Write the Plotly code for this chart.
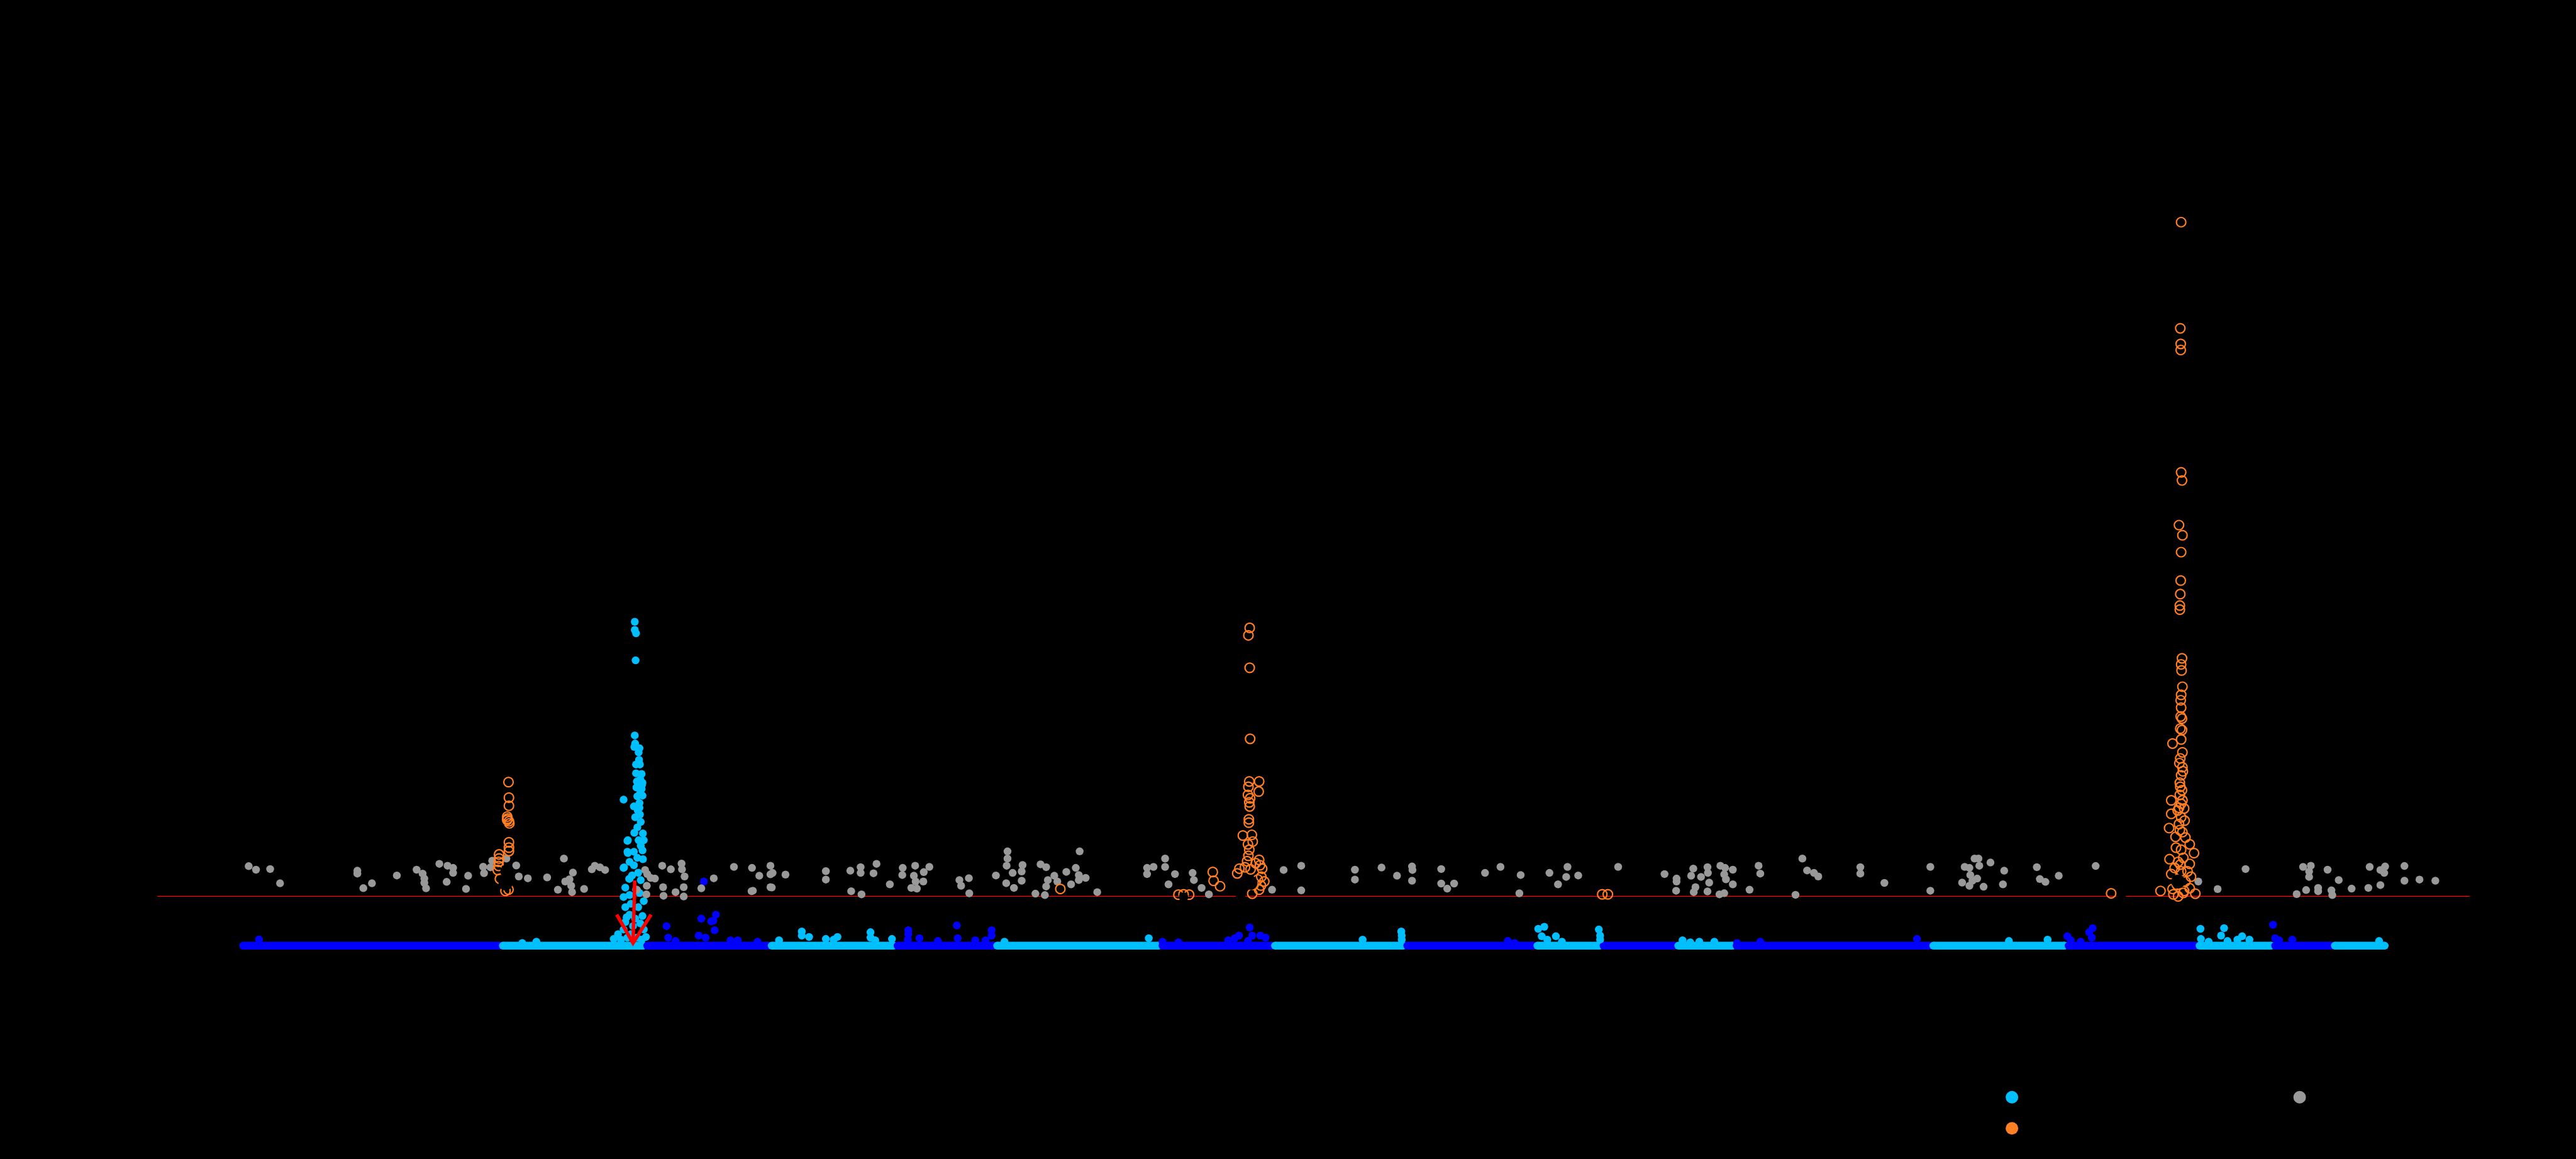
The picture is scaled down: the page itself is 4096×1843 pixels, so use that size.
import plotly.graph_objects as go

# ---------------- data (cumulative genome position, -log10 P) ----------------
chrom_names = [str(i) for i in range(1, 19)]
chrom_first_snp = [567, 1172, 1508, 1798, 2091, 2323, 2708, 2970, 3278, 3581, 3735, 3909, 4045, 4503, 4818, 5123, 5299, 5438]
chrom_last_snp = [1163, 1499, 1789, 2082, 2314, 2699, 2961, 3269, 3572, 3726, 3900, 4036, 4494, 4809, 5114, 5290, 5429, 5554]
chrom_colors = ["#0000FF", "#00BFFF"] * 9

threshold = 7.3

# elevated SNPs on odd (blue) chromosomes
blue_pos = [604, 1553, 1557, 1574, 1628, 1634, 1640, 1644, 1657, 1662, 1665, 1668, 1702, 1719, 1765,
            2116, 2116, 2115, 2142, 2185, 2229, 2231, 2272, 2310, 2310, 2296, 2708, 2745, 2861, 2876,
            2886, 2911, 2917, 2936, 2948, 2907, 3512, 3528, 4046, 4100, 4465, 4815, 4874, 4866, 4872,
            4823, 4846, 5294, 5299, 5339, 5308]
blue_logp = [0.93, 2.9, 1.2, 0.7, 1.5, 4.0, 9.5, 1.2, 3.6, 3.7, 2.3, 4.6, 0.8, 0.8, 0.6,
             2.3, 1.7, 0.9, 1.1, 0.7, 3.0, 1.1, 0.8, 2.3, 1.5, 0.8, 0.6, 0.5, 0.8, 1.1,
             1.5, 2.7, 1.5, 1.5, 1.2, 0.7, 0.7, 0.4, 0.4, 0.6, 1.0, 1.4, 2.6, 2.0, 1.2,
             0.8, 0.6, 3.1, 1.1, 0.9, 0.8]

# elevated SNPs on even (light blue) chromosomes, incl. the chromosome-2 peak
cyan_pos = [1217, 1250, 1815, 1868, 1868, 1885, 1924, 1951, 1942, 2028, 2028, 2039, 2078, 2340, 2676,
            3174, 3264, 3265, 3265, 3583, 3597, 3591, 3624, 3604, 3638, 3724, 3727, 3727, 3919, 3937,
            3958, 3993, 4679, 4769, 5125, 5180, 5173, 5126, 5222, 5239, 5188, 5211, 5144, 5541,
            1479, 1479, 1482, 1481, 1479, 1480, 1478, 1490, 1488, 1482, 1491, 1482, 1495, 1492, 1497,
            1483, 1495, 1492, 1485, 1497, 1453, 1490, 1477, 1490, 1491, 1478, 1498, 1463, 1488, 1500,
            1493, 1463, 1477, 1497, 1485, 1498, 1467, 1477, 1453, 1487, 1467, 1493, 1457, 1482, 1467,
            1453, 1500, 1457, 1487, 1467, 1497, 1457, 1492, 1500, 1440, 1453, 1430, 1470,
            1447, 1462, 1475, 1484, 1495, 1505, 1470, 1480, 1460, 1490, 1473, 1485, 1493, 1480, 1486,
            1489, 1484, 1496, 1462, 1462, 1454, 1466]
cyan_logp = [0.4, 0.6, 0.8, 2.1, 1.5, 1.3, 1.0, 1.3, 0.9, 2.0, 1.2, 0.8, 1.0, 0.6, 1.1,
             0.9, 2.1, 1.5, 0.9, 2.5, 2.8, 1.4, 1.4, 0.9, 0.6, 2.4, 1.5, 0.9, 0.8, 0.5,
             0.6, 0.6, 0.7, 0.9, 2.5, 2.6, 1.5, 1.0, 1.4, 0.9, 0.7, 0.9, 0.6, 0.7,
             47.9, 46.7, 46.2, 42.2, 31.1, 29.9, 29.4, 29.2, 28.6, 26.8, 26.8, 25.5, 25.4, 24.6, 24.1,
             23.4, 23.2, 22.6, 22.1, 22.2, 21.6, 21.1, 20.6, 20.4, 19.4, 16.7, 16.6, 15.6, 15.6, 15.6,
             14.8, 13.7, 13.9, 14.1, 13.0, 12.8, 12.4, 11.9, 11.5, 10.8, 9.9, 9.7, 8.6, 8.3, 7.5,
             7.2, 6.6, 5.7, 5.7, 4.6, 4.4, 3.5, 3.3, 2.4, 1.7, 2.4, 1.0, 1.7,
             0.9, 1.2, 2.9, 1.2, 0.9, 1.3, 6.2, 4.0, 4.2, 7.8, 10.4, 17.5, 18.3, 19.0, 20.0,
             27.5, 24.3, 23.8, 15.5, 13.9, 11.6, 9.9]

# previously reported associations
gray_pos = [580, 597, 630, 653, 833, 833, 847, 867, 925, 971, 985, 989, 989, 993, 1024, 1043, 1056, 1056,
            1041, 1091, 1086, 1126, 1128, 1147, 1203, 1209, 1230, 1275, 1300, 1314, 1317, 1327, 1331, 1335,
            1333, 1361, 1379, 1386, 1410, 1484, 1503, 1506, 1507, 1516, 1526, 1543, 1545, 1546, 1563, 1574,
            1588, 1589, 1593, 1595, 1593, 1634, 1663, 1710, 1752, 1751, 1769, 1795, 1795, 1795,
            1143, 1180, 1398, 1508,
            1754, 1800, 1798, 1830, 1924, 1924, 1981, 2005, 2005, 2035, 2042, 1983, 2007, 2073, 2103, 2102,
            2132, 2129, 2152, 2165, 2133, 2151, 2123, 2136, 2235, 2239, 2257, 2258, 2320, 2347, 2347, 2345,
            2359, 2382, 2380, 2380, 2344, 2362, 2424, 2437, 2456, 2441, 2437, 2412, 2434, 2463, 2484, 2495,
            2506, 2515, 2513, 2513, 2529, 2556, 2672, 2687, 2672, 2714, 2714, 2737, 2722, 2778, 2781, 2799,
            2816, 2963, 2990, 3031, 3031,
            3156, 3156, 3218, 3254, 3289, 3290, 3289, 3357, 3357, 3371, 3387, 3459, 3495, 3542, 3539, 3609,
            3651, 3648, 3676, 3629, 3769, 3877, 3905, 3905, 3904, 3944, 3939, 3949, 3945, 3962, 3977, 3978,
            3981, 3977, 4007, 4018, 4016, 4020, 4036, 4036, 4005, 4016, 4075, 4096, 4100, 4198, 4209, 4225,
            4235, 4182,
            4333, 4333, 4389, 4496, 4496, 4576, 4587, 4599, 4608, 4636, 4610, 4589, 4605, 4594, 4570, 4587,
            4620, 4668, 4665, 4744, 4751, 4764, 4795, 4881, 5120, 5165, 5230, 5364, 5382, 5378, 5378, 5421,
            5447, 5371, 5349, 5399, 5399, 5430, 5432, 5477, 5516, 5519, 5544, 5555, 5553, 5544, 5600, 5600,
            5635, 5672]
gray_logp = [11.77, 11.24, 11.34, 9.23, 11.09, 10.67, 8.51, 9.23, 10.39, 11.24, 10.67, 9.93, 9.29, 8.49, 12.11, 11.83, 11.51, 10.77,
             9.44, 10.35, 8.40, 11.68, 10.73, 12.57, 11.87, 10.24, 9.97, 10.10, 8.28, 12.89, 9.50, 9.82, 8.87, 10.81,
             7.92, 8.40, 11.30, 11.83, 11.20, 8.28, 11.20, 7.60, 8.87, 10.03, 9.93, 11.83, 8.66, 7.39, 11.30, 7.92,
             12.15, 11.30, 8.66, 10.24, 7.28, 8.49, 9.97, 11.66, 11.51, 8.06, 10.35, 11.83, 10.56, 8.66,
             11.6, 12.89, 11.6, 10.6,
             8.13, 10.77, 8.61, 10.52, 11.03, 9.78, 11.09, 11.62, 10.77, 10.71, 12.11, 8.06, 7.60, 9.08, 11.51, 10.46,
             11.83, 10.35, 10.88, 11.66, 9.50, 9.50, 8.55, 8.44, 9.71, 8.87, 9.99, 7.75, 10.39, 13.95, 12.89, 11.83,
             10.77, 11.94, 10.98, 9.61, 9.25, 8.55, 12.04, 11.62, 10.35, 9.71, 8.76, 7.70, 7.49, 9.50, 10.92, 9.08,
             11.51, 13.95, 10.46, 9.71, 10.03, 7.92, 11.51, 11.66, 10.60, 12.89, 11.66, 10.60, 9.08, 10.77, 9.71, 8.55,
             7.60, 8.28, 11.20, 11.83, 8.19,
             11.24, 9.78, 11.56, 10.35, 11.72, 11.20, 9.61, 11.34, 9.19, 8.44, 9.19, 10.77, 11.66, 10.46, 7.75, 10.77,
             11.66, 10.18, 10.39, 9.08, 11.66, 10.60, 9.93, 9.50, 8.13, 11.41, 10.35, 8.66, 7.92, 10.18, 11.62, 10.77,
             9.33, 8.02, 11.83, 11.51, 10.56, 9.82, 11.24, 9.08, 7.60, 7.77, 8.28, 11.83, 10.67, 12.89, 11.13, 10.77,
             10.24, 7.53,
             11.62, 10.67, 9.29, 11.66, 8.13, 11.66, 11.51, 12.89, 12.89, 12.30, 11.83, 10.46, 9.93, 9.61, 9.33, 8.87,
             8.72, 11.09, 9.08, 11.62, 9.86, 9.44, 10.35, 11.79, 9.50, 8.38, 11.34, 11.66, 11.83, 10.98, 10.18, 11.24,
             9.71, 8.23, 7.64, 8.55, 8.06, 8.19, 7.49, 8.44, 8.55, 11.66, 11.20, 11.72, 10.77, 8.97, 11.79, 9.61,
             9.78, 9.61]

# replication / second trait (open circles)
orange_pos = [1185, 1186, 1186, 1182, 1183, 1186, 1187, 1182, 1186, 1186, 1186, 1163, 1163, 1162, 1162, 1160, 1165, 1185, 1178,
              2911, 2908, 2911, 2912, 2910, 2933, 2908, 2932, 2907, 2912, 2910, 2911, 2909, 2909, 2895, 2916, 2918,
              2907, 2910, 2908, 2933, 2887, 2900, 2882, 2913, 2940, 2938, 2937, 2933, 2917, 2825, 2827, 2842,
              2925, 2930, 2920, 2945, 2905, 2935,
              5080, 5078, 5079, 5079, 5080, 5082, 5075, 5083, 5080, 5079, 5078, 5077, 5077, 5082, 5080, 5081,
              5083, 5080, 5079, 5080, 5079, 5082, 5078, 5082, 5060, 5083, 5078, 5083, 5080, 5077, 5082, 5077,
              5083, 5057, 5075, 5087, 5057, 5080, 5052, 5077, 5083, 5067, 5100, 5110, 5080, 5053, 5073, 5100,
              5057, 5080, 5103, 5032, 5060, 5087, 5113, 5073,
              5070, 5090, 5065, 5095, 5085, 5068, 5090, 5075, 5088, 5072, 5080, 5078, 5084, 5076, 5080, 5085,
              5062, 5100, 5078,
              2470, 2745, 2757, 2770, 3732, 3745, 4917]
orange_logp = [24.2, 21.9, 20.7, 19.1, 18.8, 18.4, 18.1, 18.6, 15.3, 14.5, 14.0, 13.5, 12.9, 12.4, 11.8, 11.2, 9.9, 8.3, 8.1,
               47.0, 45.9, 41.1, 30.6, 24.3, 24.3, 23.5, 22.8, 22.3, 21.8, 21.2, 20.6, 18.7, 18.2, 16.3, 16.4, 15.4,
               15.0, 14.2, 13.3, 12.7, 11.4, 11.6, 10.7, 11.3, 11.4, 10.2, 8.9, 8.3, 7.7, 10.9, 9.6, 8.8,
               12.2, 9.8, 9.0, 9.5, 12.5, 11.9,
               107.0, 91.3, 89.0, 88.1, 70.0, 68.8, 62.2, 60.7, 58.2, 54.0, 52.0, 50.3, 49.7, 42.5, 41.6, 40.7,
               38.3, 37.1, 36.3, 35.2, 33.9, 33.6, 32.1, 31.9, 29.9, 28.6, 27.7, 26.4, 25.2, 24.1, 23.0, 22.3,
               21.5, 21.5, 20.4, 20.3, 19.5, 19.0, 17.4, 17.1, 16.8, 16.1, 15.0, 13.7, 14.2, 12.8, 12.4, 12.1,
               10.6, 11.0, 10.2, 8.1, 8.4, 8.1, 7.7, 7.3,
               9.0, 9.5, 11.5, 11.0, 13.0, 14.5, 16.0, 18.0, 18.5, 20.0, 21.0, 23.5, 25.8, 27.0, 30.5, 7.8,
               7.6, 8.5, 12.0,
               8.4, 7.55, 7.6, 7.55, 7.6, 7.6, 7.75]

# lead variants (drawn in black)
lead_pos = [1182, 1178, 2913, 5073]
lead_logp = [11.0, 9.2, 9.3, 9.5]
minor_lead_pos = [2890, 4940, 2757]
minor_lead_logp = [7.3, 7.3, 7.2]

# arrow pointing at the chromosome-2 signal
arrow_tail = (1479, 9.65)
arrow_tip = (1475, 0.4)
arrow_wing_left = (1437, 4.6)
arrow_wing_right = (1517, 4.6)

legend_labels = ["GWAS (this study)", "Published GWAS", "PigQTLdb"]
legend_colors = ["#00BFFF", "#FF7F24", "#999999"]
legend_x = [4686, 4686, 5356]
legend_y = [-22.4, -27.0, -22.4]

X_RANGE = [367, 5752]
Y_RANGE = [-4.29, 111.3]

# ---------------- figure ----------------
fig = go.Figure()

DOT = 12.5
for i in range(len(chrom_names)):
    fig.add_trace(go.Scatter(
        x=[chrom_first_snp[i], chrom_last_snp[i]], y=[0, 0], mode="lines+markers",
        line=dict(color=chrom_colors[i], width=DOT),
        marker=dict(color=chrom_colors[i], size=DOT, line=dict(width=0)),
        hoverinfo="skip", showlegend=False))

fig.add_trace(go.Scatter(x=blue_pos, y=blue_logp, mode="markers",
                         marker=dict(color="#0000FF", size=DOT, line=dict(width=0)), showlegend=False))
fig.add_trace(go.Scatter(x=cyan_pos, y=cyan_logp, mode="markers",
                         marker=dict(color="#00BFFF", size=DOT, line=dict(width=0)), showlegend=False))
fig.add_trace(go.Scatter(x=gray_pos, y=gray_logp, mode="markers",
                         marker=dict(color="#999999", size=DOT, line=dict(width=0)), showlegend=False))
fig.add_trace(go.Scatter(x=orange_pos, y=orange_logp, mode="markers",
                         marker=dict(symbol="circle-open", color="#FF7F24", size=15,
                                     line=dict(width=2.2, color="#FF7F24")), showlegend=False))
fig.add_trace(go.Scatter(x=lead_pos, y=lead_logp, mode="markers",
                         marker=dict(color="#000000", size=22, line=dict(width=0)), showlegend=False))
fig.add_trace(go.Scatter(x=minor_lead_pos, y=minor_lead_logp, mode="markers",
                         marker=dict(color="#000000", size=15, line=dict(width=0)), showlegend=False))

fig.add_trace(go.Scatter(
    x=[arrow_tail[0], arrow_tip[0], None, arrow_wing_left[0], arrow_tip[0], arrow_wing_right[0]],
    y=[arrow_tail[1], arrow_tip[1], None, arrow_wing_left[1], arrow_tip[1], arrow_wing_right[1]],
    mode="lines", line=dict(color="#FF0000", width=5.5), hoverinfo="skip", showlegend=False))

fig.add_shape(type="line", xref="paper", x0=0, x1=1, yref="y", y0=threshold, y1=threshold,
              line=dict(color="#FF0000", width=1.4), layer="below")

# legend drawn below the plot area (outside the axes), positioned in axis units
for lx, ly, lc, lt in zip(legend_x, legend_y, legend_colors, legend_labels):
    px = (lx - X_RANGE[0]) / (X_RANGE[1] - X_RANGE[0])
    py = (ly - Y_RANGE[0]) / (Y_RANGE[1] - Y_RANGE[0])
    fig.add_shape(type="circle", xref="paper", yref="paper",
                  xsizemode="pixel", ysizemode="pixel", xanchor=px, yanchor=py,
                  x0=-10, x1=10, y0=-10, y1=10,
                  fillcolor=lc, line=dict(width=0), layer="above")
    fig.add_annotation(x=px, y=py, xref="paper", yref="paper", text=lt, showarrow=False,
                       xanchor="left", yanchor="middle", xshift=22,
                       font=dict(color="#000000", size=27, family="Liberation Sans"))

tick_mid = [(a + b) / 2 for a, b in zip(chrom_first_snp, chrom_last_snp)]

fig.update_layout(
    width=4096, height=1843,
    paper_bgcolor="#000000", plot_bgcolor="#000000",
    margin=dict(l=250, r=169, t=307, b=293, pad=0),
    font=dict(family="Liberation Sans", color="#000000", size=27),
    showlegend=False,
    xaxis=dict(range=X_RANGE, showgrid=False, zeroline=False, showline=False,
               tickvals=tick_mid, ticktext=chrom_names, ticks="outside", tickcolor="#000000",
               ticklen=10, tickfont=dict(color="#000000", size=27),
               title=dict(text="Chromosome", font=dict(color="#000000", size=30))),
    yaxis=dict(range=Y_RANGE, showgrid=False, zeroline=False, showline=False,
               tickvals=[0, 20, 40, 60, 80, 100], ticks="outside", tickcolor="#000000", ticklen=10,
               tickfont=dict(color="#000000", size=27),
               title=dict(text="-log<sub>10</sub>(<i>P</i>)", font=dict(color="#000000", size=30))),
)

fig.write_html("out.html")
